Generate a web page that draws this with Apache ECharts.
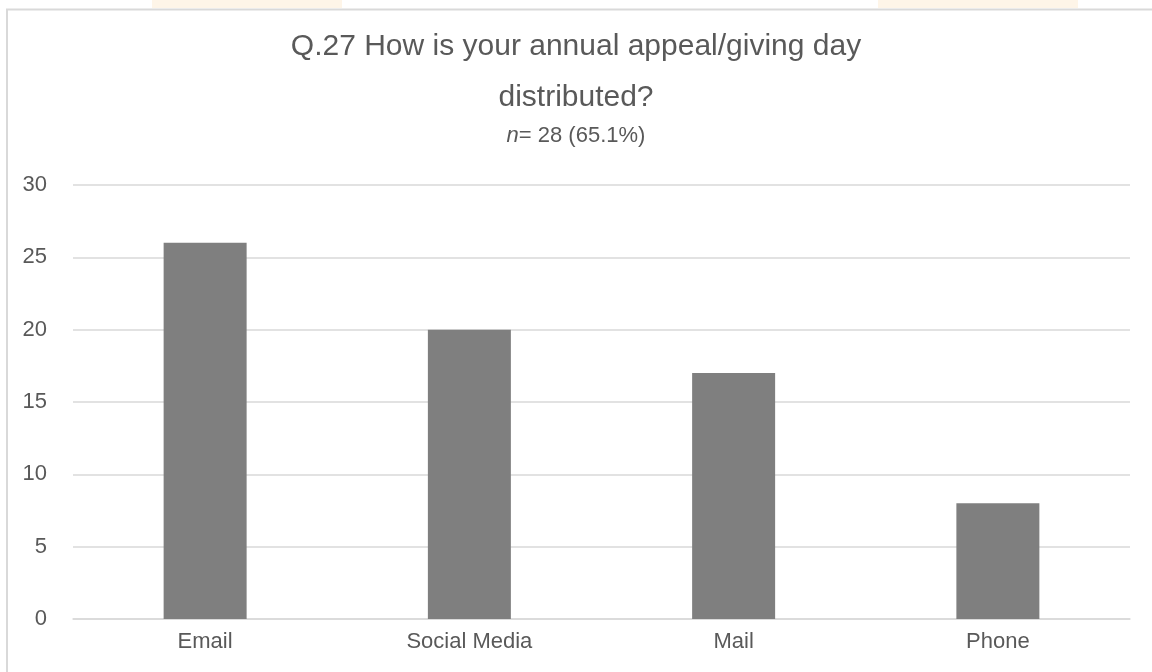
<!DOCTYPE html>
<html>
<head>
<meta charset="utf-8">
<script src="https://cdn.jsdelivr.net/npm/echarts@6/dist/echarts.min.js"></script>
<style>
  html, body { margin: 0; padding: 0; background: #ffffff; }
  #chart { width: 1152px; height: 672px; }
</style>
</head>
<body>
<div id="chart"></div>
<script>
// Survey answers: how the annual appeal / giving day is distributed
const categories = ['Email', 'Social Media', 'Mail', 'Phone'];
const responses = [26, 20, 17, 8];
const yTicks = [0, 5, 10, 15, 20, 25, 30];

const titleLines = ['Q.27 How is your annual appeal/giving day', 'distributed?'];
const sampleNote = '{i|n}= 28 (65.1%)';

const textColor = '#595959';
const font = 'Liberation Sans, Arial, sans-serif';

const chart = echarts.init(document.getElementById('chart'), null, { renderer: 'canvas' });

chart.setOption({
  backgroundColor: '#ffffff',
  animation: false,
  graphic: [
    // soft header tints above the frame
    { type: 'rect', shape: { x: 152, y: 0, width: 190, height: 8 },
      style: { fill: 'rgba(253,236,214,0.55)' }, silent: true },
    { type: 'rect', shape: { x: 878, y: 0, width: 200, height: 8 },
      style: { fill: 'rgba(253,236,214,0.55)' }, silent: true },
    // chart frame (top and left edges)
    { type: 'polyline', shape: { points: [[7, 672], [7, 9.5], [1152, 9.5]] },
      style: { stroke: '#d9d9d9', lineWidth: 2, fill: null }, silent: true },
    // title block
    { type: 'text', x: 576, y: 47, silent: true,
      style: { text: titleLines[0], fill: textColor, font: '30px ' + font,
               textAlign: 'center', textVerticalAlign: 'middle' } },
    { type: 'text', x: 576, y: 98, silent: true,
      style: { text: titleLines[1], fill: textColor, font: '30px ' + font,
               textAlign: 'center', textVerticalAlign: 'middle' } },
    { type: 'text', x: 576, y: 136, silent: true,
      style: { text: sampleNote, fill: textColor, font: '22px ' + font,
               textAlign: 'center', textVerticalAlign: 'middle',
               rich: { i: { fontFamily: font, fontSize: 22, fontStyle: 'italic', fill: textColor } } } }
  ],
  grid: {
    left: 73,
    right: 22,
    top: 185,
    bottom: 53,
    containLabel: false
  },
  xAxis: {
    type: 'category',
    data: categories,
    axisLine: { show: true, lineStyle: { color: '#d9d9d9', width: 1.5 } },
    axisTick: { show: false },
    axisLabel: {
      fontFamily: font,
      fontSize: 22,
      color: textColor,
      margin: 12
    }
  },
  yAxis: {
    type: 'value',
    min: yTicks[0],
    max: yTicks[yTicks.length - 1],
    interval: 5,
    axisLine: { show: false },
    axisTick: { show: false },
    axisLabel: {
      fontFamily: font,
      fontSize: 22,
      color: textColor,
      margin: 26
    },
    splitLine: { lineStyle: { color: '#d9d9d9', width: 1.5 } }
  },
  series: [{
    type: 'bar',
    data: responses,
    barWidth: 83,
    itemStyle: { color: '#7f7f7f' }
  }]
});
</script>
</body>
</html>
